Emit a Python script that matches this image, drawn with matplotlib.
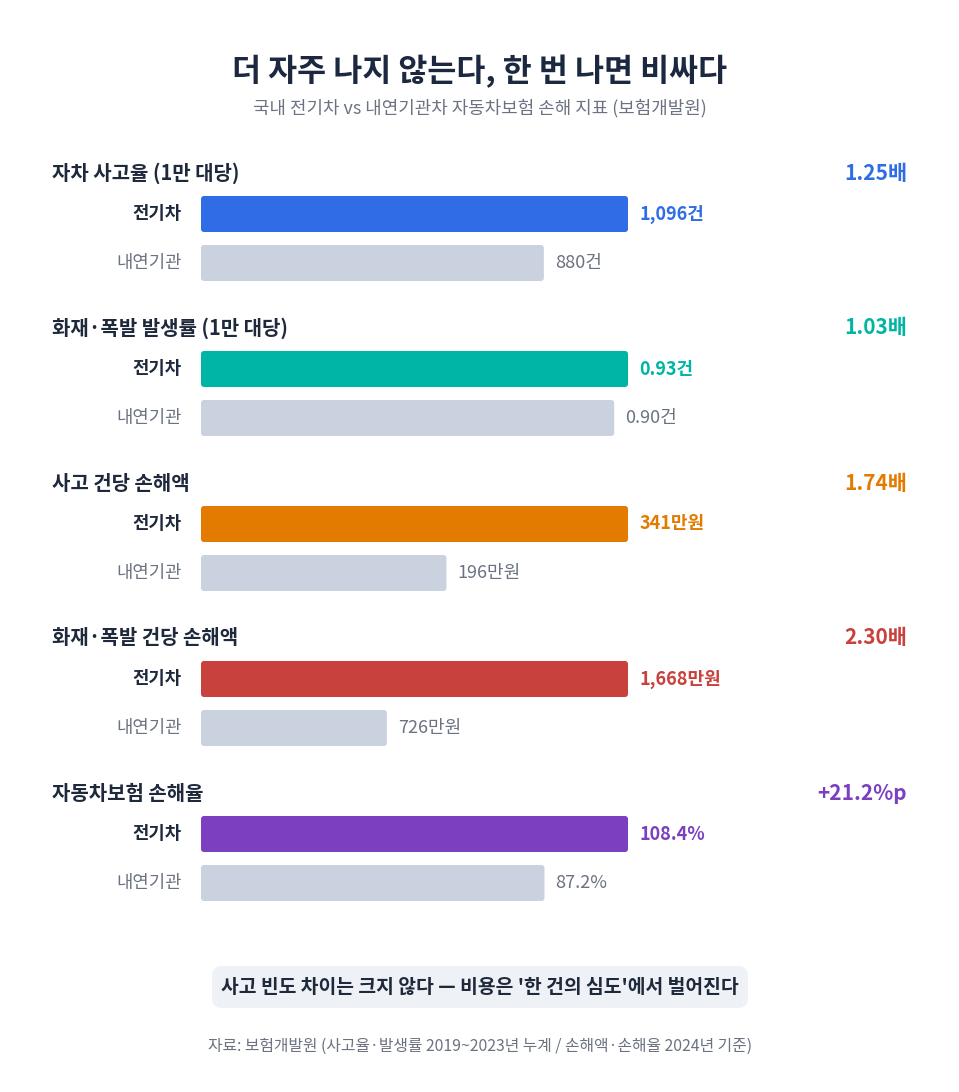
import matplotlib
matplotlib.use('Agg')
import matplotlib.pyplot as plt
from matplotlib.patches import FancyBboxPatch

plt.rcParams['font.family'] = ['Noto Sans CJK KR', 'DejaVu Sans']

# data
groups = ['자차 사고율 (1만 대당)', '화재·폭발 발생률 (1만 대당)', '사고 건당 손해액',
          '화재·폭발 건당 손해액', '자동차보험 손해율']
ev_values = [1096, 0.93, 341, 1668, 108.4]
ice_values = [880, 0.90, 196, 726, 87.2]
ev_labels = ['1,096건', '0.93건', '341만원', '1,668만원', '108.4%']
ice_labels = ['880건', '0.90건', '196만원', '726만원', '87.2%']
ratios = ['1.25배', '1.03배', '1.74배', '2.30배', '+21.2%p']
colors = ['#2f6ce5', '#00b5a3', '#e27b00', '#c9413c', '#7b3fc0']
row_names = ['전기차', '내연기관']

W, H = 959, 1092
fig = plt.figure(figsize=(W / 100, H / 100), dpi=100)
fig.patch.set_facecolor('white')

# overlay axes in pixel coords for free text
bg = fig.add_axes([0, 0, 1, 1])
bg.set_xlim(0, W)
bg.set_ylim(H, 0)
bg.axis('off')

dark = '#1e293b'
gray = '#6b7280'
ice_color = '#cbd2df'

bg.text(480, 72, '더 자주 나지 않는다, 한 번 나면 비싸다', ha='center', va='center',
        fontsize=22.7, fontweight='bold', color='#1c2840')
bg.text(480, 108, '국내 전기차 vs 내연기관차 자동차보험 손해 지표 (보험개발원)', ha='center',
        va='center', fontsize=12.9, color=gray)

bar_left, bar_right = 201, 628
step = 155
for i, g in enumerate(groups):
    y0 = 173 + i * step
    bg.text(52, y0, g, ha='left', va='center', fontsize=14.4, fontweight='bold', color=dark)
    bg.text(907, y0, ratios[i], ha='right', va='center', fontsize=15, fontweight='bold',
            color=colors[i])

    c_ev = y0 + 41
    top = c_ev - 24.5
    bottom = c_ev + 49 + 24.5
    ax = fig.add_axes([bar_left / W, 1 - bottom / H, (bar_right - bar_left) / W,
                       (bottom - top) / H])
    ax.axis('off')
    vmax = ev_values[i]
    ax.set_xlim(0, vmax)
    ax.set_ylim(1.5, -0.5)
    vals = [ev_values[i], ice_values[i]]
    bars = ax.barh([0, 1], vals, height=36 / 49, color=[colors[i], ice_color])
    # swap in rounded rectangles
    r = 3 * vmax / 427
    asp = 427 / (49 * vmax)
    for b in bars:
        b.set_visible(False)
        rb = FancyBboxPatch((b.get_x(), b.get_y()), b.get_width(), b.get_height(),
                            boxstyle=f'round,pad=0,rounding_size={r}',
                            mutation_aspect=asp, facecolor=b.get_facecolor(),
                            edgecolor='none')
        ax.add_patch(rb)
    labs = [ev_labels[i], ice_labels[i]]
    for j, (v, lab) in enumerate(zip(vals, labs)):
        ax.annotate(lab, (v, j), xytext=(8, 0), textcoords='offset points',
                    ha='left', va='center', fontsize=13,
                    fontweight='bold' if j == 0 else 'medium',
                    color=colors[i] if j == 0 else gray, annotation_clip=False)
        ax.annotate(row_names[j], (0, j), xytext=(-14, 0), textcoords='offset points',
                    ha='right', va='center', fontsize=12.8,
                    fontweight='bold' if j == 0 else 'medium',
                    color=dark if j == 0 else gray, annotation_clip=False)

# callout
box = FancyBboxPatch((212, 966), 536, 42, boxstyle='round,pad=0,rounding_size=10',
                     facecolor='#eef1f6', edgecolor='none')
bg.add_patch(box)
bg.text(480, 987, "사고 빈도 차이는 크지 않다 — 비용은 '한 건의 심도'에서 벌어진다",
        ha='center', va='center', fontsize=13.9, fontweight='bold', color=dark)

bg.text(480, 1046, '자료: 보험개발원 (사고율·발생률 2019~2023년 누계 / 손해액·손해율 2024년 기준)',
        ha='center', va='center', fontsize=11.4, color=gray)

fig.savefig('out.png', dpi=100, facecolor='white')
